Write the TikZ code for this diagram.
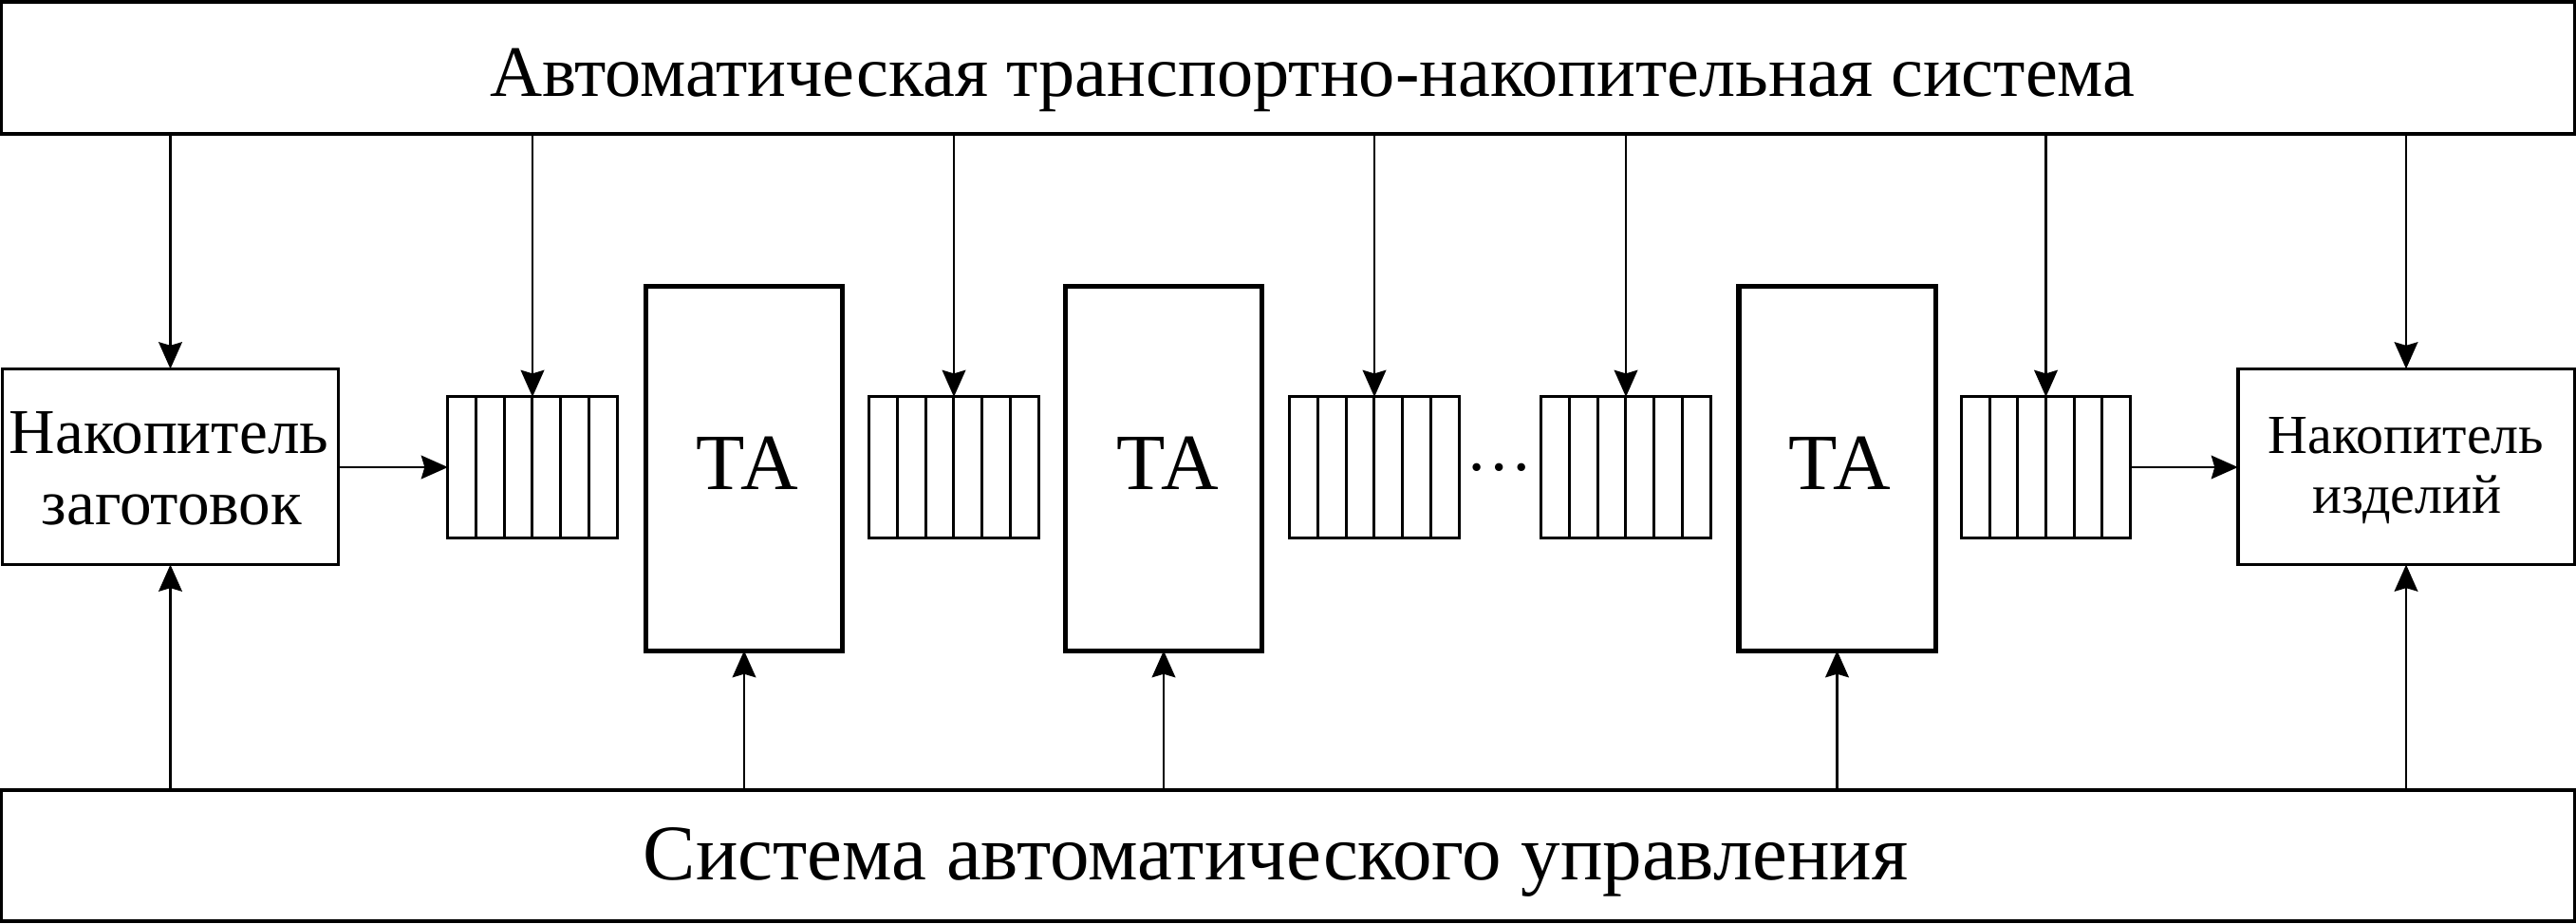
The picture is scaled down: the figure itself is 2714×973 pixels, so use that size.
\documentclass[tikz,border=0pt]{standalone}
\usepackage{fontspec}
\setmainfont{Liberation Serif}
\usetikzlibrary{arrows.meta}
\tikzset{
  box/.style={draw, line width=0.9pt, rectangle, inner sep=0pt, outer sep=0pt},
  tabox/.style={draw, line width=1.45pt, rectangle, inner sep=0pt, outer sep=0pt, minimum width=2.07cm, minimum height=3.83cm},
  buf/.style={draw, line width=0.85pt, rectangle, inner sep=0pt, outer sep=0pt, minimum width=1.78cm, minimum height=1.48cm},
  arr/.style={line width=0.8pt, -{Stealth[length=8pt,width=7pt,inset=1pt]}},
  txt/.style={anchor=base, inner sep=0pt},
}
\newcommand{\cells}[1]{%
  \foreach \i in {1,...,5} {\draw[line width=0.85pt] ($(#1.north west)+(\i*29.67,0)$) -- ($(#1.south west)+(\i*29.67,0)$);}}
\usetikzlibrary{calc}
\begin{document}
\begin{tikzpicture}[x=0.01cm,y=-0.01cm]
\useasboundingbox (0,0) rectangle (2714,973);
% boxes
\node[box, minimum width=27.10cm, minimum height=1.39cm] (top) at (1357,71.5) {};
\node[box, minimum width=27.10cm, minimum height=1.38cm] (bot) at (1357,901) {};
\node[box, minimum width=3.53cm, minimum height=2.06cm] (lb) at (179.5,491.5) {};
\node[box, minimum width=3.54cm, minimum height=2.06cm] (rb) at (2535,491.5) {};
\node[tabox] (ta1) at (784,493.5) {};
\node[tabox] (ta2) at (1226,493.5) {};
\node[tabox] (ta3) at (1935.5,493.5) {};
\node[buf] (b1) at (561,492) {};
\node[buf] (b2) at (1005,492) {};
\node[buf] (b3) at (1448,492) {};
\node[buf] (b4) at (1713,492) {};
\node[buf] (b5) at (2155.5,492) {};
\cells{b1}\cells{b2}\cells{b3}\cells{b4}\cells{b5}
% texts
\node[txt, font=\fontsize{21.7}{24}\selectfont] (toptext) at (1383,102) {Автоматическая транспортно-накопительная система};
\node[txt, font=\fontsize{23.6}{28}\selectfont] (bottext) at (1344,926) {Система автоматического управления};
\node[txt, font=\fontsize{19.1}{22}\selectfont] (lt1) at (178,477) {Накопитель};
\node[txt, font=\fontsize{19.1}{22}\selectfont] (lt2) at (181,552) {заготовок};
\node[txt, font=\fontsize{16.5}{19}\selectfont] (rt1) at (2535,477) {Накопитель};
\node[txt, font=\fontsize{16.5}{19}\selectfont] (rt2) at (2536,540) {изделий};
\node[txt, font=\fontsize{23.9}{27}\selectfont] (tat1) at (787,515) {ТА};
\node[txt, font=\fontsize{23.9}{27}\selectfont] (tat2) at (1230,515) {ТА};
\node[txt, font=\fontsize{23.9}{27}\selectfont] (tat3) at (1938,515) {ТА};
\node[txt, font=\fontsize{20}{24}\selectfont] (dots) at (1580,495) {…};
% arrows from the top system
\foreach \n in {lb,b1,b2,b3,b4,b5,rb} {\draw[arr] (top.south -| \n.north) -- (\n.north);}
% arrows from the control system
\foreach \n in {lb,ta1,ta2,ta3,rb} {\draw[arr] (bot.north -| \n.south) -- (\n.south);}
% horizontal flow
\draw[arr] (lb.east |- b1.west) -- (b1.west);
\draw[arr] (b5.east) -- (rb.west |- b5.east);
\end{tikzpicture}
\end{document}
